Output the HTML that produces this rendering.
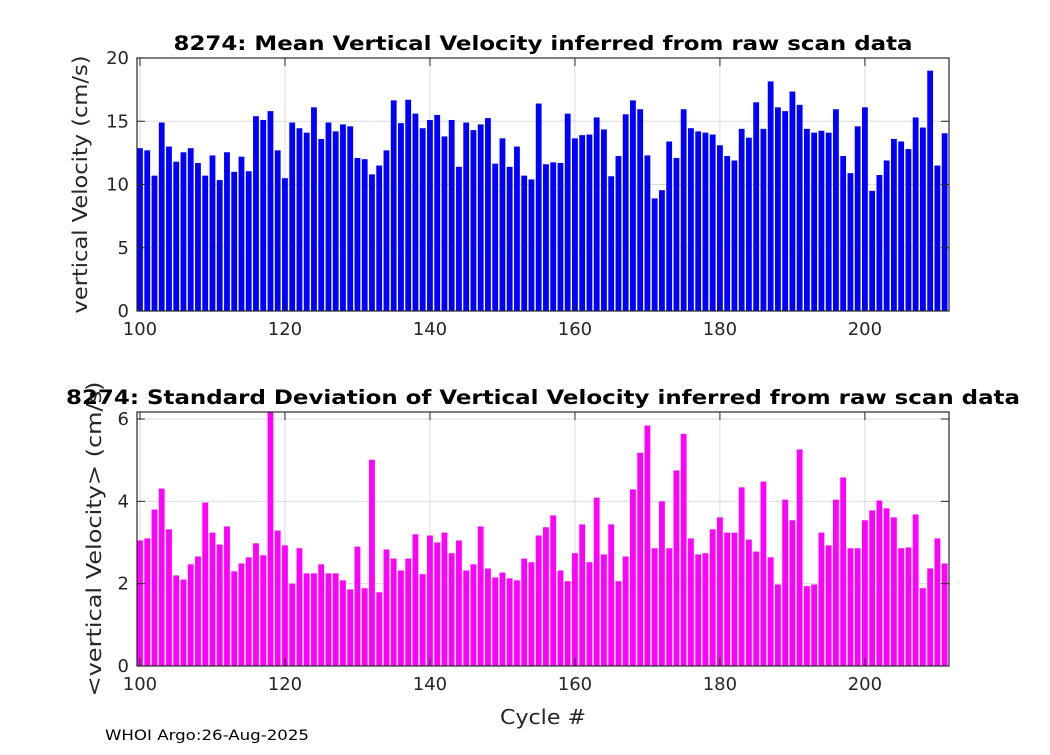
<!DOCTYPE html>
<html><head><meta charset="utf-8"><style>
body{margin:0;background:#fff;}
svg text{font-family:"DejaVu Sans","Liberation Sans",sans-serif;fill:#262626;}
</style></head><body>
<svg id="c" width="1050" height="750" xmlns="http://www.w3.org/2000/svg"></svg>
<script>
const cycles = [];
for (let c = 100; c <= 211; c++) cycles.push(c);
const meanVel = [12.87,12.7,10.7,14.9,13.0,11.8,12.55,12.87,11.7,10.7,12.3,10.35,12.55,11.0,12.2,11.05,15.4,15.1,15.8,12.7,10.5,14.9,14.45,14.1,16.1,13.6,14.9,14.2,14.75,14.6,12.1,12.0,10.8,11.5,12.7,16.65,14.85,16.7,15.6,14.45,15.1,15.5,13.8,15.1,11.4,14.9,14.3,14.75,15.25,11.65,13.65,11.4,13.0,10.7,10.4,16.4,11.6,11.75,11.7,15.6,13.65,13.9,13.95,15.3,14.35,10.65,12.25,15.55,16.65,15.95,12.3,8.9,9.55,13.4,12.1,15.95,14.45,14.2,14.1,13.95,13.1,12.25,11.9,14.4,13.7,16.5,14.4,18.15,16.1,15.8,17.35,16.3,14.4,14.1,14.25,14.1,15.95,12.25,10.9,14.6,16.1,9.5,10.75,11.9,13.6,13.4,12.8,15.3,14.5,19.0,11.5,14.05];
const stdVel = [3.05,3.1,3.8,4.31,3.32,2.2,2.1,2.47,2.66,3.97,3.24,2.95,3.39,2.3,2.49,2.64,2.98,2.69,6.8,3.29,2.93,2.0,2.86,2.25,2.25,2.47,2.25,2.25,2.08,1.86,2.9,1.89,5.01,1.79,2.83,2.61,2.32,2.61,3.2,2.23,3.17,3.0,3.24,2.74,3.05,2.32,2.47,3.39,2.37,2.15,2.27,2.13,2.08,2.61,2.52,3.17,3.37,3.66,2.32,2.06,2.74,3.44,2.52,4.09,2.71,3.44,2.06,2.66,4.29,5.18,5.84,2.86,4.0,2.86,4.75,5.64,3.1,2.71,2.74,3.32,3.61,3.24,3.24,4.34,3.07,2.78,4.48,2.64,1.98,4.04,3.54,5.26,1.94,1.98,3.24,2.93,4.04,4.58,2.86,2.86,3.54,3.78,4.02,3.83,3.61,2.86,2.88,3.68,1.89,2.37,3.1,2.49];
const xTicks = [100,120,140,160,180,200];
const yTicksTop = [0,5,10,15,20];
const yTicksBot = [0,2,4,6];

const NS = "http://www.w3.org/2000/svg";
const svg = document.getElementById('c');
function mk(tag, attrs, parent) {
  const e = document.createElementNS(NS, tag);
  for (const k in attrs) e.setAttribute(k, attrs[k]);
  (parent || svg).appendChild(e);
  return e;
}
const X0 = 137, X1 = 949, XMIN = 99.59, XMAX = 211.6;
const xs = v => X0 + (v - XMIN) / (XMAX - XMIN) * (X1 - X0);

function panel(name, top, bot, ymax, ticks, vals, color, title, titleW, ylab, ylabW, ylabX) {
  const ys = v => bot - v / ymax * (bot - top);
  const g = mk('g', {});
  
  
  const clipId = name + '-clip';
  const cp = mk('clipPath', {id: clipId}, g);
  mk('rect', {x: X0, y: top, width: X1 - X0, height: bot - top}, cp);
  xTicks.forEach(t => { const l = mk('line', {x1: xs(t), x2: xs(t), y1: top, y2: bot, stroke: '#dcdcdc', 'stroke-width': 1}, g);
      });
  ticks.forEach(t => { const l = mk('line', {x1: X0, x2: X1, y1: ys(t), y2: ys(t), stroke: '#dcdcdc', 'stroke-width': 1}, g);
      });
  const bg = mk('g', {'clip-path': 'url(#' + clipId + ')'}, g);
  cycles.forEach((c, i) => {
    const v = vals[i];
    const r = mk('rect', {x: xs(c - 0.4), y: ys(v), width: xs(c + 0.4) - xs(c - 0.4), height: bot - ys(v), fill: color}, bg);
    
    
  });
  const box = mk('rect', {x: X0, y: top, width: X1 - X0, height: bot - top, fill: 'none', stroke: '#262626', 'stroke-width': 1.2}, g);
   
  xTicks.forEach(t => {
    mk('line', {x1: xs(t), x2: xs(t), y1: bot, y2: bot - 8, stroke: '#262626'}, g);
    mk('line', {x1: xs(t), x2: xs(t), y1: top, y2: top + 8, stroke: '#262626'}, g);
    const tx = mk('text', {x: xs(t), y: bot + 24, 'text-anchor': 'middle', 'font-size': 18}, g);
    tx.textContent = t;
     
  });
  ticks.forEach(t => {
    mk('line', {x1: X0, x2: X0 + 8, y1: ys(t), y2: ys(t), stroke: '#262626'}, g);
    mk('line', {x1: X1, x2: X1 - 8, y1: ys(t), y2: ys(t), stroke: '#262626'}, g);
    const tx = mk('text', {x: X0 - 8, y: ys(t) + 6, 'text-anchor': 'end', 'font-size': 18}, g);
    tx.textContent = t;
     
  });
  const tt = mk('text', {x: 543, y: top - 8, 'text-anchor': 'middle', 'font-size': 19.5, 'font-weight': 'bold', textLength: titleW, lengthAdjust: 'spacingAndGlyphs', style: 'fill:#000'}, g);
  tt.textContent = title;
   
  const yl = mk('text', {x: 0, y: 0, 'text-anchor': 'middle', 'font-size': 20, textLength: ylabW, lengthAdjust: 'spacingAndGlyphs', transform: 'translate(' + ylabX + ',' + ((top + bot) / 2) + ') rotate(-90)'}, g);
  yl.textContent = ylab;
   
}
panel('mean-velocity-panel', 58, 311, 20, yTicksTop, meanVel, '#0000ff',
  '8274: Mean Vertical Velocity inferred from raw scan data', 739, 'vertical Velocity (cm/s)', 258, 87);
panel('std-velocity-panel', 412, 666, 6.17, yTicksBot, stdVel, '#ff00ff',
  '8274: Standard Deviation of Vertical Velocity inferred from raw scan data', 954, '<vertical Velocity> (cm/s)', 315, 101);
const xl = mk('text', {x: 543, y: 724, 'text-anchor': 'middle', 'font-size': 20, textLength: 86, lengthAdjust: 'spacingAndGlyphs'});
xl.textContent = 'Cycle #';


const ft = mk('text', {x: 105, y: 740, 'font-size': 14.5, textLength: 204, lengthAdjust: 'spacingAndGlyphs', style: 'fill:#000'});
ft.textContent = 'WHOI Argo:26-Aug-2025';


</script>
</body></html>
